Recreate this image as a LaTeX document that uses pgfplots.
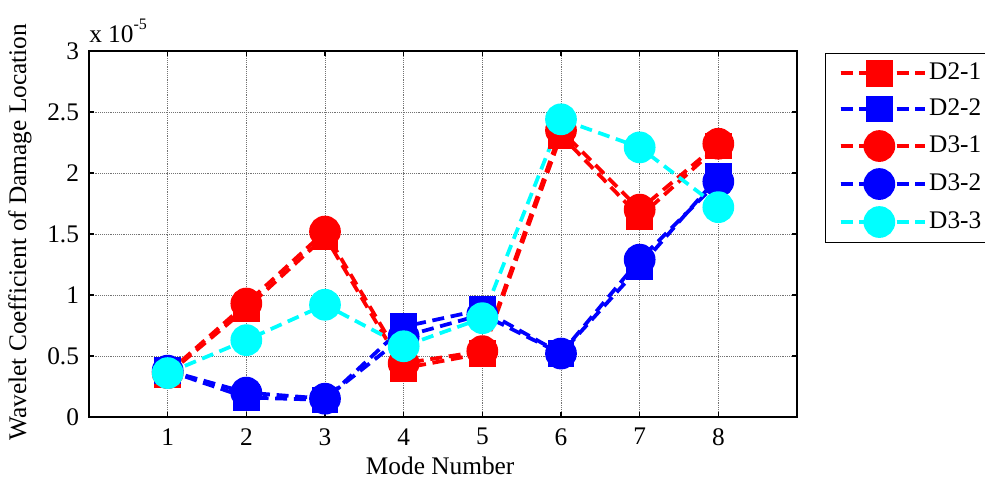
\documentclass[border=0pt]{standalone}
\usepackage{fontspec}
\setmainfont{Liberation Serif}
\usepackage{pgfplots}
\pgfplotsset{compat=1.18}
\definecolor{mcyan}{RGB}{0,255,255}
\definecolor{mred}{RGB}{255,0,0}
\definecolor{mblue}{RGB}{0,0,255}
\begin{document}
\fontsize{19}{22}\selectfont
\begin{tikzpicture}
\begin{axis}[
  at={(0pt,0pt)}, anchor=south west,
  scale only axis, width=531pt, height=274.5pt,
  xmin=0, xmax=9, ymin=0, ymax=3,
  clip=false,
  xtick={1,2,3,4,5,6,7,8}, ytick={0,0.5,1,1.5,2,2.5,3},
  /pgf/number format/assume math mode=true,
  tick label style={font=\fontsize{19}{22}\selectfont},
  label style={font=\fontsize{19}{22}\selectfont},
  xticklabel style={yshift=-2pt},
  yticklabel style={xshift=-1pt},
  axis line style={line width=0.9pt},
  every tick/.style={black, line width=0.8pt},
  major tick length=4pt,
  grid=major, major grid style={densely dotted, black!55, line width=0.5pt},
  xlabel={Mode Number},
  xlabel style={at={(axis description cs:0.496,-0.108)}, anchor=north, inner sep=0pt},
  ylabel={Wavelet Coefficient of Damage Location},
  ylabel style={at={(axis description cs:-0.0975,0.505)}, anchor=center},
  legend cell align=left,
  legend style={at={(axis description cs:1.0395,0.9945)}, anchor=north west,
    draw=black, line width=0.8pt, font=\fontsize{19}{22}\selectfont,
    row sep=7.5pt, inner xsep=10pt, inner ysep=5pt},
  legend image code/.code={\draw[#1, mark repeat=2, mark phase=2] plot coordinates {(0pt,0pt) (29pt,0pt) (58pt,0pt)};
    \path (0pt,0pt) -- (63pt,0pt);},
  every axis plot/.append style={line width=2.8pt, dash pattern=on 9pt off 5pt, mark options={solid}},
]
\addplot[mred, mark=square*, mark size=8.6pt] coordinates {(1,0.35)(2,0.89)(3,1.48)(4,0.40)(5,0.52)(6,2.31)(7,1.64)(8,2.22)};
\addlegendentry{D2-1}
\addplot[mblue, mark=square*, mark size=8.6pt] coordinates {(1,0.38)(2,0.16)(3,0.14)(4,0.74)(5,0.88)(6,0.52)(7,1.23)(8,1.97)};
\addlegendentry{D2-2}
\addplot[mred, mark=*, mark size=10.5pt] coordinates {(1,0.36)(2,0.93)(3,1.52)(4,0.44)(5,0.54)(6,2.35)(7,1.70)(8,2.24)};
\addlegendentry{D3-1}
\addplot[mblue, mark=*, mark size=10.5pt] coordinates {(1,0.38)(2,0.20)(3,0.15)(4,0.66)(5,0.84)(6,0.52)(7,1.29)(8,1.93)};
\addlegendentry{D3-2}
\addplot[mcyan, mark=*, mark size=10.5pt] coordinates {(1,0.36)(2,0.63)(3,0.92)(4,0.58)(5,0.81)(6,2.44)(7,2.21)(8,1.72)};
\addlegendentry{D3-3}
\node[anchor=south west, inner sep=0pt, font=\fontsize{19}{22}\selectfont] at (axis description cs:0.0,1.022) {x 10\raisebox{1.1ex}{\fontsize{12}{14}\selectfont -5}};
\end{axis}
\pgfresetboundingbox
\path[use as bounding box] (-66.75pt,-46.5pt) rectangle (672pt,312.75pt);
\end{tikzpicture}
\end{document}
